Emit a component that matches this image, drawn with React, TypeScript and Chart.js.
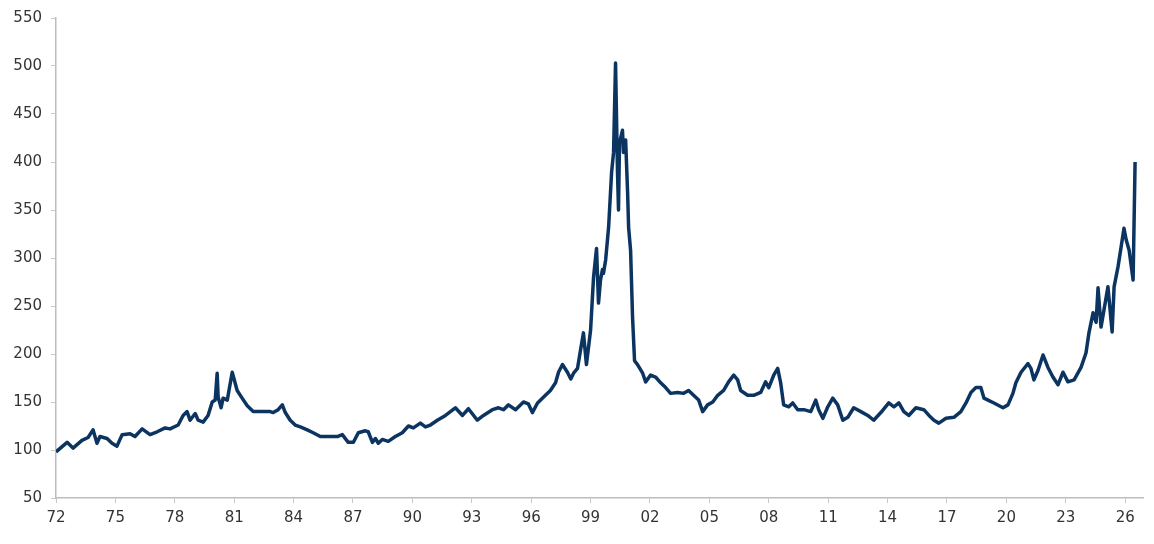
import React, { useEffect, useRef } from "react";
import { Chart, registerables } from "chart.js";

Chart.register(...registerables);

const years: number[] = [
  1972.0, 1972.56, 1972.86, 1973.31, 1973.62, 1973.87, 1974.07, 1974.22, 1974.58, 1974.83,
  1975.08, 1975.34, 1975.74, 1975.99, 1976.35, 1976.75, 1977.11, 1977.51, 1977.76, 1978.17,
  1978.42, 1978.62, 1978.77, 1979.03, 1979.18, 1979.43, 1979.68, 1979.89, 1980.04, 1980.14,
  1980.19, 1980.34, 1980.44, 1980.65, 1980.9, 1981.15, 1981.4, 1981.66, 1981.96, 1982.47,
  1982.82, 1982.97, 1983.22, 1983.43, 1983.58, 1983.83, 1984.08, 1984.34, 1984.69, 1984.99,
  1985.35, 1985.85, 1986.21, 1986.46, 1986.76, 1987.02, 1987.27, 1987.62, 1987.77, 1987.98,
  1988.13, 1988.28, 1988.48, 1988.78, 1989.14, 1989.49, 1989.8, 1990.05, 1990.4, 1990.66,
  1990.91, 1991.26, 1991.67, 1992.17, 1992.53, 1992.83, 1993.28, 1993.59, 1994.04, 1994.35,
  1994.6, 1994.85, 1995.21, 1995.61, 1995.86, 1996.06, 1996.32, 1996.72, 1996.97, 1997.23,
  1997.38, 1997.58, 1997.83, 1998.0, 1998.14, 1998.34, 1998.49, 1998.64, 1998.79, 1999.0,
  1999.15, 1999.3, 1999.4, 1999.5, 1999.6, 1999.65, 1999.76, 1999.91, 2000.06, 2000.16,
  2000.26, 2000.36, 2000.41, 2000.46, 2000.61, 2000.66, 2000.77, 2000.87, 2000.92, 2001.02,
  2001.12, 2001.22, 2001.37, 2001.63, 2001.78, 2002.03, 2002.28, 2002.54, 2002.79, 2003.04,
  2003.4, 2003.7, 2003.95, 2004.2, 2004.46, 2004.66, 2004.91, 2005.17, 2005.42, 2005.72,
  2005.97, 2006.23, 2006.43, 2006.58, 2006.93, 2007.24, 2007.59, 2007.84, 2008.0, 2008.25,
  2008.45, 2008.6, 2008.75, 2009.01, 2009.21, 2009.46, 2009.77, 2010.12, 2010.37, 2010.52,
  2010.73, 2010.98, 2011.23, 2011.48, 2011.74, 2011.99, 2012.29, 2012.65, 2013.0, 2013.3,
  2013.66, 2014.06, 2014.32, 2014.57, 2014.82, 2015.07, 2015.43, 2015.83, 2016.09, 2016.34,
  2016.59, 2016.95, 2017.35, 2017.7, 2017.96, 2018.21, 2018.46, 2018.71, 2018.87, 2019.07,
  2019.37, 2019.83, 2020.08, 2020.33, 2020.48, 2020.74, 2021.09, 2021.24, 2021.39, 2021.6,
  2021.85, 2022.1, 2022.35, 2022.61, 2022.86, 2023.11, 2023.42, 2023.77, 2024.02, 2024.17,
  2024.38, 2024.53, 2024.63, 2024.78, 2024.93, 2025.13, 2025.34, 2025.44, 2025.64, 2025.79,
  2025.94, 2026.05, 2026.2, 2026.4, 2026.5,
];

const values: number[] = [
  98, 108, 102, 110, 113, 121, 107, 114, 112, 107,
  104, 116, 117, 114, 122, 116, 119, 123, 122, 126,
  136, 140, 131, 138, 131, 129, 136, 150, 152, 180,
  155, 144, 154, 152, 181, 162, 154, 146, 140, 140,
  140, 139, 142, 147, 139, 131, 126, 124, 121, 118,
  114, 114, 114, 116, 108, 108, 118, 120, 119, 108,
  112, 107, 111, 109, 114, 118, 125, 123, 128, 124,
  126, 131, 136, 144, 136, 143, 131, 136, 142, 144,
  142, 147, 142, 150, 148, 139, 149, 157, 162, 170,
  181, 189, 181, 174, 180, 185, 204, 222, 189, 225,
  280, 310, 253, 277, 288, 284, 298, 332, 389, 410,
  503, 389, 350, 420, 433, 410, 423, 368, 332, 308,
  238, 193, 189, 180, 171, 178, 176, 170, 165, 159,
  160, 159, 162, 157, 152, 140, 147, 150, 157, 162,
  171, 178, 173, 162, 157, 157, 160, 171, 165, 178,
  185, 170, 147, 145, 149, 142, 142, 140, 152, 142,
  133, 145, 154, 147, 131, 134, 144, 140, 136, 131,
  139, 149, 145, 149, 140, 136, 144, 142, 136, 131,
  128, 133, 134, 140, 149, 160, 165, 165, 154, 152,
  149, 144, 147, 159, 170, 181, 190, 185, 173, 183,
  199, 186, 176, 168, 181, 171, 173, 186, 201, 222,
  243, 233, 269, 228, 246, 270, 223, 270, 291, 311,
  331, 319, 308, 277, 400,
];

const xTickYears: number[] = [
  1972, 1975, 1978, 1981, 1984, 1987, 1990, 1993, 1996, 1999,
  2002, 2005, 2008, 2011, 2014, 2017, 2020, 2023, 2026,
];
const xTickLabels: string[] = [
  "72", "75", "78", "81", "84", "87", "90", "93", "96", "99",
  "02", "05", "08", "11", "14", "17", "20", "23", "26",
];
const yTicks: number[] = [50, 100, 150, 200, 250, 300, 350, 400, 450, 500, 550];

export default function App() {
  const ref = useRef<HTMLCanvasElement | null>(null);

  useEffect(() => {
    if (!ref.current) return;
    const points = years.map((x, i) => ({ x, y: values[i] }));
    const font = { family: "'DejaVu Sans', Arial, sans-serif", size: 15 };
    const chart = new Chart(ref.current, {
      type: "line",
      data: {
        datasets: [
          {
            data: points,
            borderColor: "#0c3461",
            borderWidth: 3.5,
            pointRadius: 0,
            tension: 0,
            borderJoinStyle: "round",
            fill: false,
          },
        ],
      },
      options: {
        responsive: false,
        animation: false,
        layout: {
          autoPadding: false,
          padding: { top: 18, right: 11, left: 0, bottom: 0 },
        },
        plugins: {
          legend: { display: false },
          tooltip: { enabled: false },
        },
        scales: {
          x: {
            type: "linear",
            min: 1972,
            max: 2026.9,
            afterBuildTicks: (scale: any) => {
              scale.ticks = xTickYears.map((v) => ({ value: v }));
            },
            afterFit: (scale: any) => {
              scale.height = 46;
            },
            ticks: {
              autoSkip: false,
              maxRotation: 0,
              padding: 6,
              color: "#333333",
              font,
              callback: (v: any) => {
                const i = xTickYears.indexOf(Number(v));
                return i >= 0 ? xTickLabels[i] : "";
              },
            },
            grid: {
              drawOnChartArea: false,
              drawTicks: true,
              tickLength: 5,
              color: "#c8c8c8",
            },
            border: { display: true, color: "#bdbdbd", width: 1.5 },
          },
          y: {
            type: "linear",
            min: 50,
            max: 550,
            afterBuildTicks: (scale: any) => {
              scale.ticks = yTicks.map((v) => ({ value: v }));
            },
            afterFit: (scale: any) => {
              scale.width = 56;
            },
            ticks: {
              padding: 9,
              color: "#333333",
              font,
            },
            grid: {
              drawOnChartArea: false,
              drawTicks: true,
              tickLength: 5,
              color: "#c8c8c8",
            },
            border: { display: true, color: "#bdbdbd", width: 1.5 },
          },
        },
      },
    } as any);
    return () => chart.destroy();
  }, []);

  return (
    <div style={{ position: "fixed", left: 0, top: 0, width: 1154, height: 544, background: "#fff" }}>
      <canvas ref={ref} width={1154} height={544} />
    </div>
  );
}
